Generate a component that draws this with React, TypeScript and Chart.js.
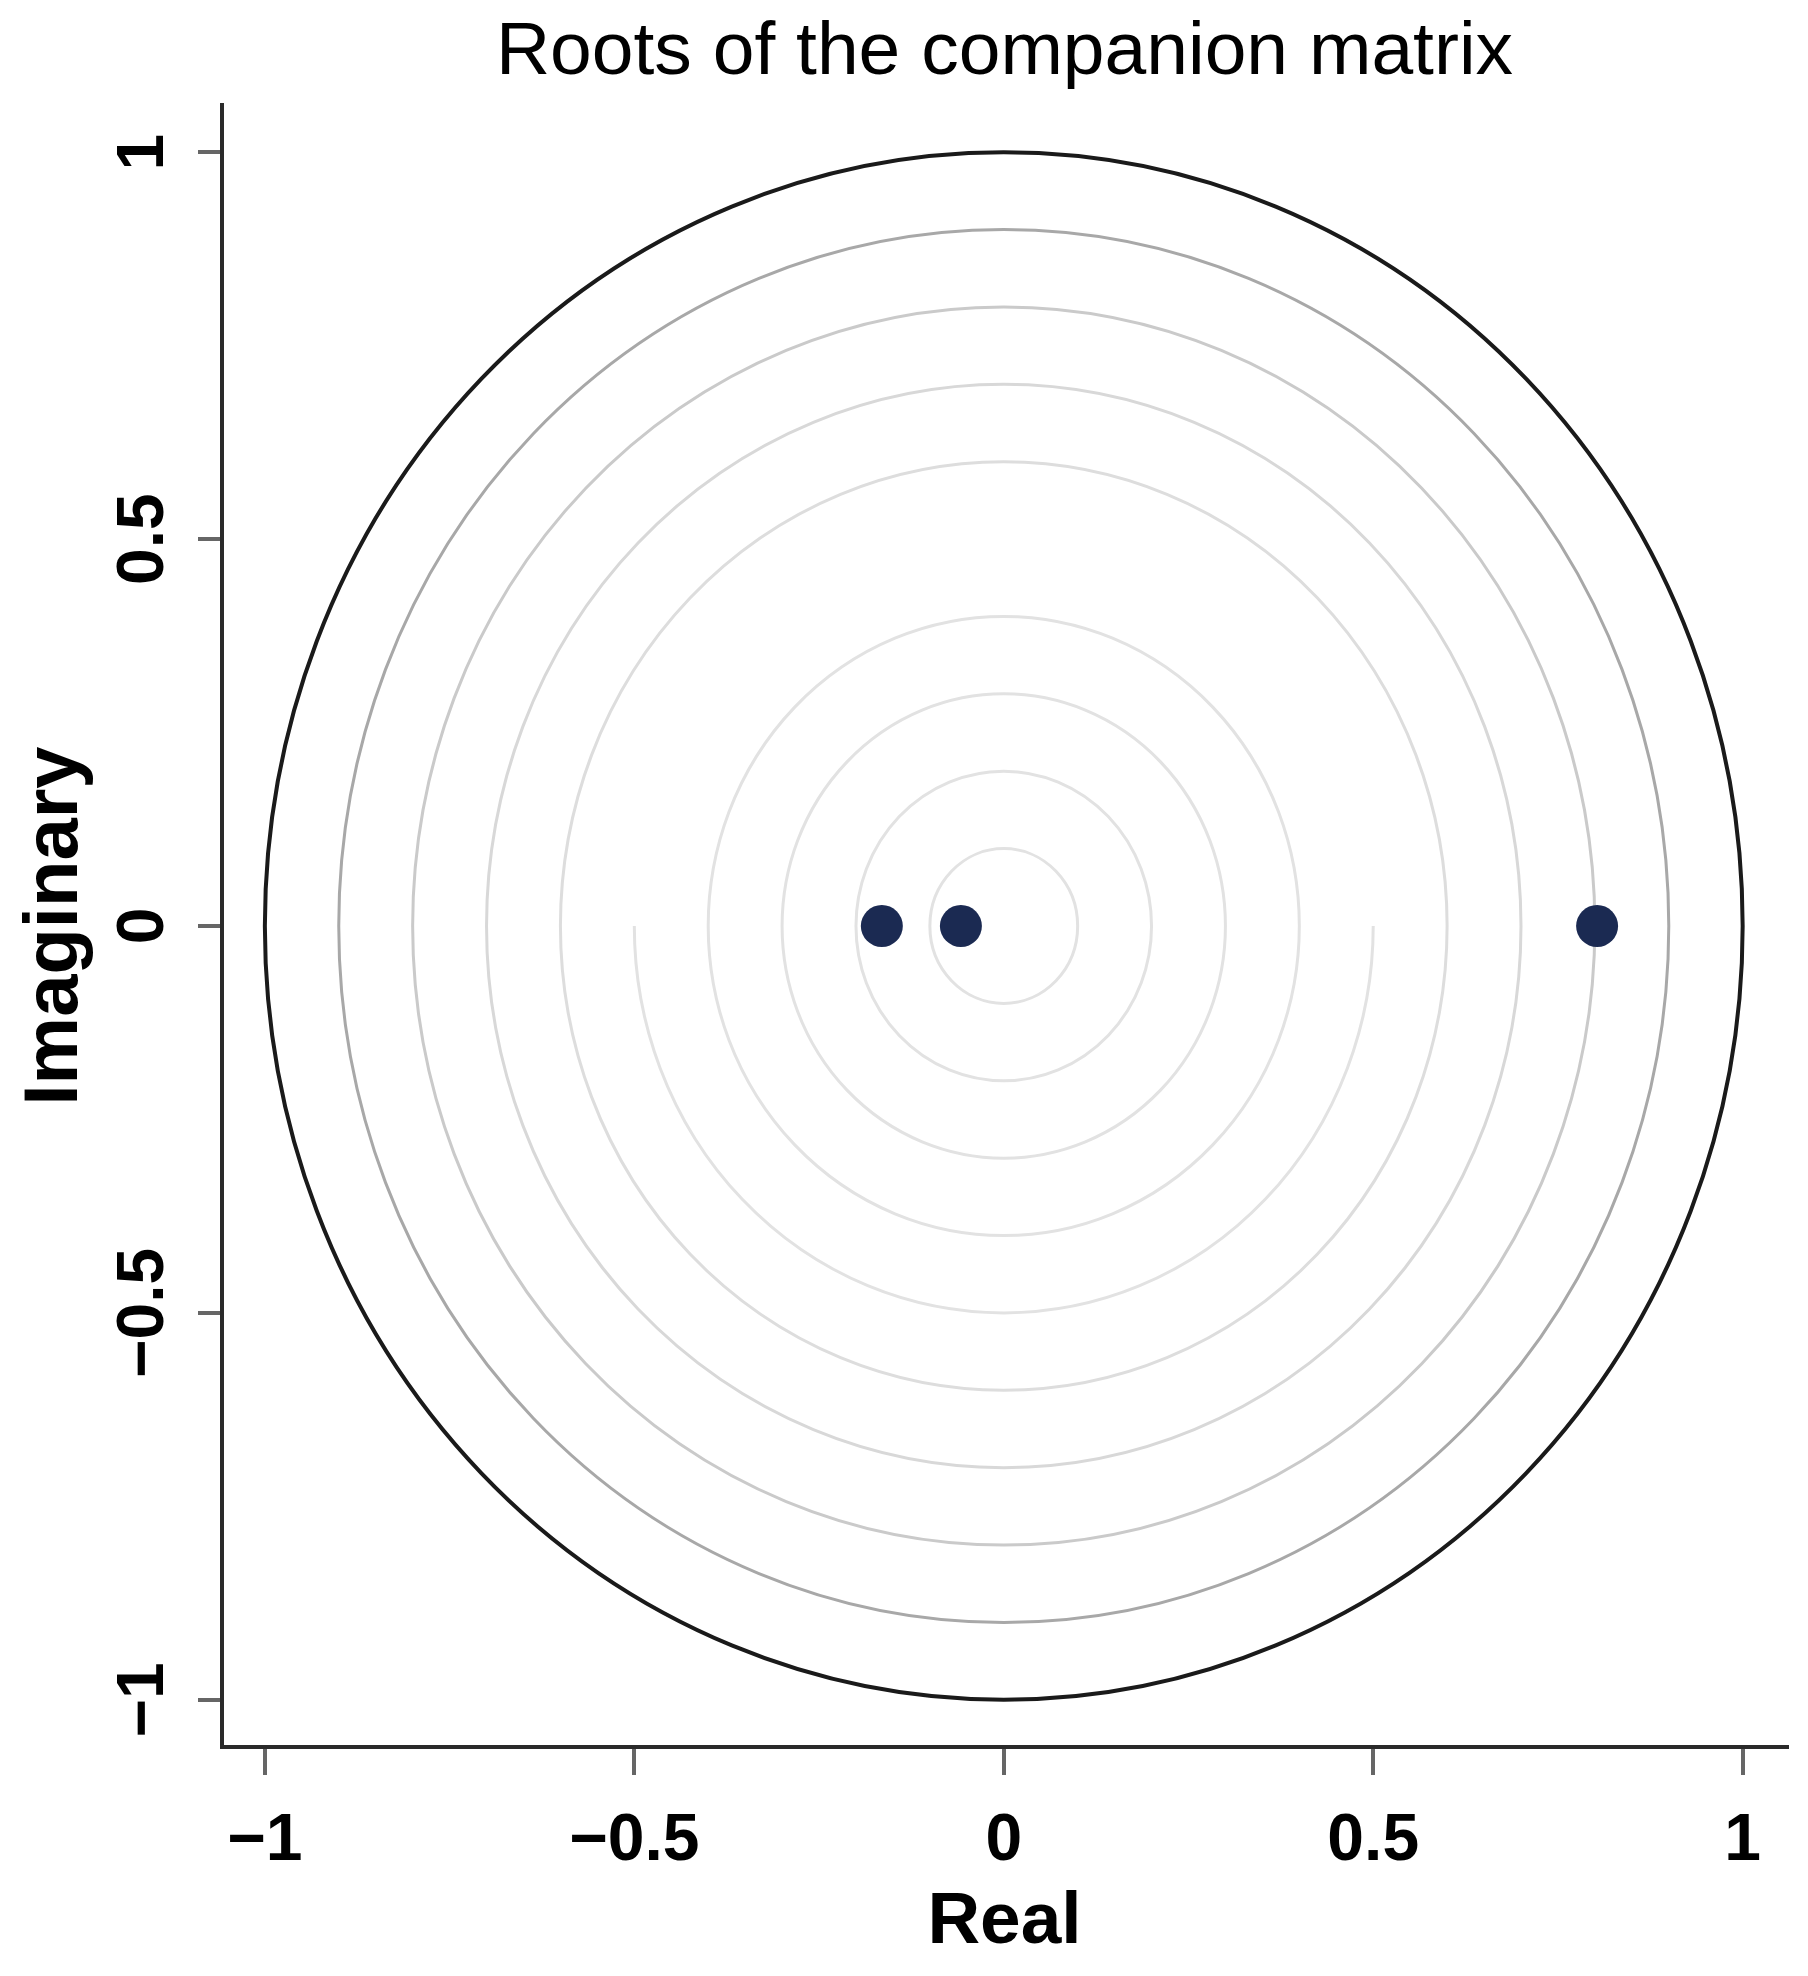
import React, { useEffect, useRef } from 'react';
import { Chart, registerables } from 'chart.js';

Chart.register(...registerables);

const chartTitle = 'Roots of the companion matrix';
const xAxisTitle = 'Real';
const yAxisTitle = 'Imaginary';
const xTickValues = [-1, -0.5, 0, 0.5, 1];
const xTickLabels = ['\u22121', '\u22120.5', '0', '0.5', '1'];
const yTickValues = [-1, -0.5, 0, 0.5, 1];
const yTickLabels = ['\u22121', '\u22120.5', '0', '0.5', '1'];
const xRange = [-1.058, 1.06];
const yRange = [-1.061, 1.061];

// eigenvalues (real, imaginary)
const rootReal = [-0.165, -0.058, 0.803];
const rootImag = [0, 0, 0];

// reference circles (modulus grid)
const circleRadii = [0.1, 0.2, 0.3, 0.4, 0.5, 0.6, 0.7, 0.8, 0.9, 1];
const circleArcs = ['full', 'full', 'full', 'full', 'lower', 'full', 'full', 'full', 'full', 'full'];
const circleColors = ['#e2e2e2', '#e2e2e2', '#e2e2e2', '#e2e2e2', '#e2e2e2', '#dddddd', '#d8d8d8', '#cacaca', '#a8a8a8', '#1a1a1a'];
const circleWidths = [3, 3, 3, 3, 3, 3, 3, 3, 3, 4];

const FONT = "'Liberation Sans', Arial, Helvetica, sans-serif";

const circlesPlugin = {
  id: 'circles',
  beforeDatasetsDraw(chart: any) {
    const xs = chart.scales.x;
    const ys = chart.scales.y;
    const ctx = chart.ctx;
    const cx = xs.getPixelForValue(0);
    const cy = ys.getPixelForValue(0);
    ctx.save();
    circleRadii.forEach((r, i) => {
      const rx = xs.getPixelForValue(r) - cx;
      const ry = cy - ys.getPixelForValue(r);
      ctx.beginPath();
      if (circleArcs[i] === 'lower') {
        ctx.ellipse(cx, cy, rx, ry, 0, 0, Math.PI);
      } else {
        ctx.ellipse(cx, cy, rx, ry, 0, 0, Math.PI * 2);
      }
      ctx.strokeStyle = circleColors[i];
      ctx.lineWidth = circleWidths[i];
      ctx.stroke();
    });
    ctx.restore();
  },
};

export default function App() {
  const ref = useRef<HTMLCanvasElement | null>(null);

  useEffect(() => {
    if (!ref.current) return;
    const chart = new Chart(ref.current, {
      type: 'scatter',
      data: {
        datasets: [
          {
            label: 'Roots',
            data: rootReal.map((x, i) => ({ x, y: rootImag[i] })),
            backgroundColor: '#1b2a52',
            borderColor: '#1b2a52',
            borderWidth: 0,
            pointRadius: 21,
            pointHoverRadius: 21,
          },
        ],
      },
      options: {
        responsive: false,
        animation: false,
        layout: { padding: { left: 0, right: 19, top: 0, bottom: 0 } },
        plugins: {
          legend: { display: false },
          tooltip: { enabled: false },
          title: {
            display: true,
            text: chartTitle,
            fullSize: false,
            color: '#000',
            font: { family: FONT, size: 75, weight: 'normal' },
            padding: { top: 8, bottom: 7 },
          },
        },
        scales: {
          x: {
            type: 'linear',
            min: xRange[0],
            max: xRange[1],
            afterBuildTicks: (scale: any) => {
              scale.ticks = xTickValues.map((value) => ({ value }));
            },
            afterFit: (scale: any) => {
              scale.height = 229;
            },
            ticks: {
              callback: (_v: any, i: number) => xTickLabels[i],
              color: '#000',
              font: { family: FONT, size: 66, weight: 'bold' },
              padding: 27,
              maxRotation: 0,
              autoSkip: false,
            },
            grid: {
              drawOnChartArea: false,
              drawTicks: true,
              tickLength: 28,
              color: '#666',
              lineWidth: 4,
            },
            border: { display: true, color: '#2a2a2a', width: 4 },
            title: {
              display: true,
              text: xAxisTitle,
              color: '#000',
              font: { family: FONT, size: 73, weight: 'bold' },
              padding: { top: 0, bottom: 9 },
            },
          },
          y: {
            type: 'linear',
            min: yRange[0],
            max: yRange[1],
            afterBuildTicks: (scale: any) => {
              scale.ticks = yTickValues.map((value) => ({ value }));
            },
            afterFit: (scale: any) => {
              scale.width = 222;
            },
            ticks: {
              callback: (_v: any, i: number) => yTickLabels[i],
              color: '#000',
              font: { family: FONT, size: 66, weight: 'bold' },
              padding: -12,
              minRotation: 90,
              maxRotation: 90,
              crossAlign: 'center',
              autoSkip: false,
            },
            grid: {
              drawOnChartArea: false,
              drawTicks: true,
              tickLength: 24,
              color: '#666',
              lineWidth: 4,
            },
            border: { display: true, color: '#2a2a2a', width: 4 },
            title: {
              display: true,
              text: yAxisTitle,
              color: '#000',
              font: { family: FONT, size: 76, weight: 'bold' },
              padding: { top: 10, bottom: 0 },
            },
          },
        },
      } as any,
      plugins: [circlesPlugin],
    });
    return () => chart.destroy();
  }, []);

  return (
    <div style={{ position: 'absolute', left: 0, top: 0, width: 1808, height: 1976, background: '#fff' }}>
      <canvas ref={ref} width={1808} height={1976} style={{ display: 'block' }} />
    </div>
  );
}
